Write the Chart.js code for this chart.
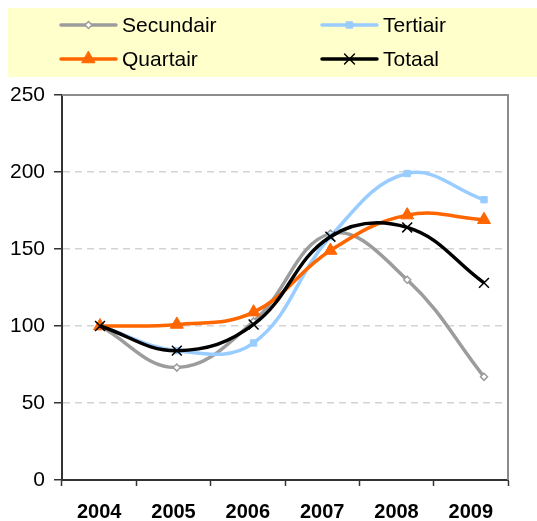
<!DOCTYPE html>
<html>
<head>
<meta charset="utf-8">
<script src="https://cdn.jsdelivr.net/npm/chart.js@4/dist/chart.umd.min.js"></script>
<style>
  html, body { margin: 0; padding: 0; background: #fff; }
  canvas { display: block; }
</style>
</head>
<body>
<canvas id="chart" width="537" height="521"></canvas>
<script>
const years = ['2004', '2005', '2006', '2007', '2008', '2009'];
const secundair = [100, 73, 103, 160, 130, 67];
const tertiair = [100, 84, 89, 158, 199, 182];
const quartair = [100, 101, 109, 149, 172, 169];
const totaal = [100, 84, 101, 158, 164, 128];
const yTicks = [0, 50, 100, 150, 200, 250];

const FONT = '"Liberation Sans", Arial, sans-serif';

const toPoints = arr => arr.map((v, i) => ({ x: i, y: v }));

const series = [
    { label: 'Secundair', data: secundair, color: '#9C9C9C', style: 'rectRot', radius: 3.5, fill: '#fff', bw: 1.5 },
    { label: 'Tertiair', data: tertiair, color: '#99CCFF', style: 'rect', radius: 4.5, fill: '#99CCFF', bw: 1 },
    { label: 'Quartair', data: quartair, color: '#FF6600', style: 'triangle', radius: 7.5, fill: '#FF6600', bw: 1 },
    { label: 'Totaal', data: totaal, color: '#000000', style: 'crossRot', radius: 7, fill: '#000', bw: 1.5 }
];

// small marker drawer for the legend
function drawMarker(ctx, s, x, y) {
    ctx.save();
    ctx.fillStyle = s.fill;
    ctx.strokeStyle = s.color;
    ctx.lineWidth = s.bw;
    const r = s.radius;
    ctx.beginPath();
    if (s.style === 'rectRot') {
        ctx.moveTo(x, y - r); ctx.lineTo(x + r, y); ctx.lineTo(x, y + r); ctx.lineTo(x - r, y); ctx.closePath();
        ctx.fill(); ctx.stroke();
    } else if (s.style === 'rect') {
        const h = r * Math.SQRT1_2;
        ctx.rect(x - h, y - h, 2 * h, 2 * h); ctx.fill(); ctx.stroke();
    } else if (s.style === 'triangle') {
        ctx.moveTo(x, y - r); ctx.lineTo(x + r * 0.866, y + r * 0.5); ctx.lineTo(x - r * 0.866, y + r * 0.5); ctx.closePath();
        ctx.fill(); ctx.stroke();
    } else {
        const h = r * Math.SQRT1_2;
        ctx.moveTo(x - h, y - h); ctx.lineTo(x + h, y + h); ctx.moveTo(x + h, y - h); ctx.lineTo(x - h, y + h);
        ctx.stroke();
    }
    ctx.restore();
}

const legendBox = {
    id: 'legendBox',
    beforeDraw(chart) {
        const ctx = chart.ctx;
        ctx.save();
        ctx.fillStyle = '#FFFFCC';
        ctx.fillRect(8, 8, 529, 69);
        const pos = [[61, 25], [322, 25], [61, 59], [322, 59]];
        ctx.font = '21px ' + FONT;
        ctx.textBaseline = 'middle';
        series.forEach((s, i) => {
            const [x, y] = pos[i];
            ctx.strokeStyle = s.color;
            ctx.lineWidth = 3.5;
            ctx.lineCap = 'round';
            ctx.beginPath(); ctx.moveTo(x, y); ctx.lineTo(x + 55, y); ctx.stroke();
            drawMarker(ctx, s, x + 27.5, y);
            ctx.fillStyle = '#000';
            ctx.fillText(s.label, x + 61, y + 1);
        });
        ctx.restore();
    },
    afterDraw(chart) {
        // top and right frame of the plot area
        const { ctx, chartArea: a } = chart;
        ctx.save();
        ctx.strokeStyle = '#8C8C8C';
        ctx.lineWidth = 2;
        ctx.beginPath();
        ctx.moveTo(a.left, a.top); ctx.lineTo(a.right, a.top); ctx.lineTo(a.right, a.bottom);
        ctx.stroke();
        ctx.restore();
    }
};

new Chart(document.getElementById('chart'), {
    type: 'line',
    data: {
        labels: years,
        datasets: series.map((s, i) => ({
            label: s.label,
            data: toPoints(s.data),
            xAxisID: 'xd',
            borderColor: s.color,
            borderWidth: 3.5,
            tension: 0.4,
            pointStyle: s.style,
            pointRadius: s.radius,
            pointBackgroundColor: s.fill,
            pointBorderColor: s.color,
            pointBorderWidth: s.bw,
            order: 3 - i
        }))
    },
    options: {
        responsive: false,
        animation: false,
        layout: { padding: { top: 95, right: 29, left: 0, bottom: 0 } },
        plugins: { legend: { display: false }, tooltip: { enabled: false } },
        scales: {
            x: {
                type: 'category',
                offset: true,
                grid: { offset: true, drawOnChartArea: false, tickLength: 6, tickColor: '#333', tickWidth: 1.5 },
                border: { color: '#333', width: 2 },
                ticks: { color: '#000', padding: 14, font: { family: FONT, size: 20, weight: 'bold' } },
                afterFit(scale) { scale.height = 41; }
            },
            xd: {
                type: 'linear',
                display: false,
                min: -0.495,
                max: 5.3125
            },
            y: {
                min: 0,
                max: 250,
                afterBuildTicks(scale) { scale.ticks = yTicks.map(v => ({ value: v })); },
                grid: {
                    color: c => (c.tick.value === 0 || c.tick.value === 250) ? 'rgba(0,0,0,0)' : '#D4D4D4',
                    lineWidth: 1.5,
                    tickLength: 8,
                    tickColor: '#333',
                    tickWidth: 1.5
                },
                border: { color: '#333', width: 2, dash: [7, 5] },
                ticks: { color: '#000', padding: 9, font: { family: FONT, size: 21 } },
                afterFit(scale) { scale.width = 62; }
            }
        }
    },
    plugins: [legendBox]
});
</script>
</body>
</html>
